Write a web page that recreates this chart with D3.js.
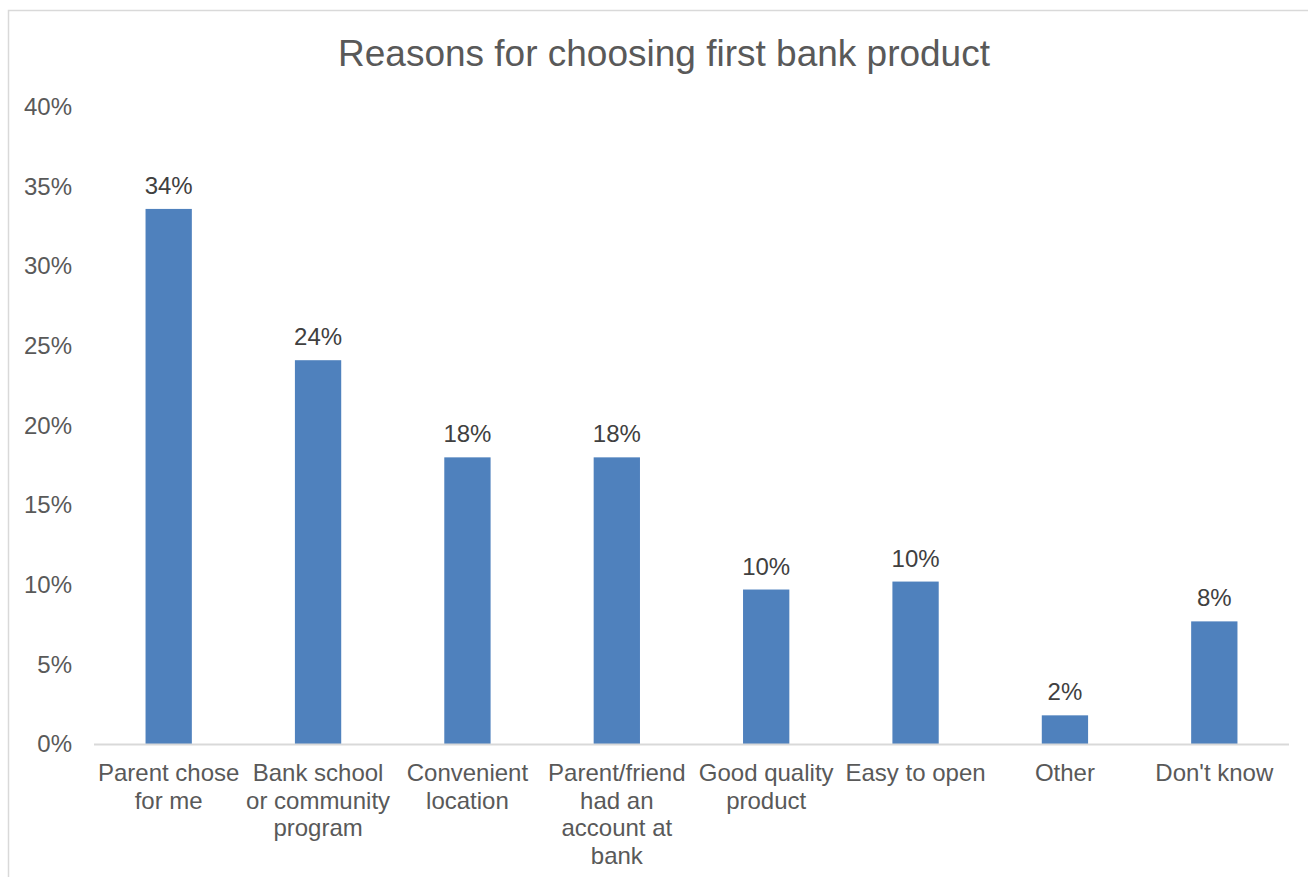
<!DOCTYPE html>
<html>
<head>
<meta charset="utf-8">
<script src="https://cdn.jsdelivr.net/npm/d3@7"></script>
<style>
  body { margin: 0; background: #fff; }
  text { font-family: "Liberation Sans", Arial, sans-serif; }
</style>
</head>
<body>
<div id="chart"></div>
<script>
// data
const categories = [
  "Parent chose for me",
  "Bank school or community program",
  "Convenient location",
  "Parent/friend had an account at bank",
  "Good quality product",
  "Easy to open",
  "Other",
  "Don't know"
];
// wrapped label lines, as in the original
const labelLines = [
  ["Parent chose", "for me"],
  ["Bank school", "or community", "program"],
  ["Convenient", "location"],
  ["Parent/friend", "had an", "account at", "bank"],
  ["Good quality", "product"],
  ["Easy to open"],
  ["Other"],
  ["Don't know"]
];
const values = [0.336, 0.241, 0.180, 0.180, 0.097, 0.102, 0.018, 0.077];
const yTicks = [0, 0.05, 0.10, 0.15, 0.20, 0.25, 0.30, 0.35, 0.40];

const W = 1308, H = 877;
const margin = { top: 107, right: 19, bottom: 133, left: 94 };
const width = W - margin.left - margin.right;
const height = H - margin.top - margin.bottom;

const svg = d3.select('#chart')
  .append('svg')
  .attr('width', W)
  .attr('height', H);

// chart frame (runs off the right and bottom of the image)
svg.append('rect')
  .attr('x', 8.5)
  .attr('y', 10.5)
  .attr('width', 1320)
  .attr('height', 900)
  .attr('fill', '#fff')
  .attr('stroke', '#d9d9d9')
  .attr('stroke-width', 1.5);

// title
svg.append('text')
  .attr('x', 664)
  .attr('y', 66)
  .attr('text-anchor', 'middle')
  .attr('fill', '#595959')
  .style('font-size', '37px')
  .text('Reasons for choosing first bank product');

const g = svg.append('g')
  .attr('transform', `translate(${margin.left},${margin.top})`);

const x = d3.scaleBand()
  .domain(categories)
  .range([0, width])
  .paddingInner(0.69)
  .paddingOuter(0.345);

const y = d3.scaleLinear()
  .domain([0, 0.40])
  .range([height, 0]);

// y axis labels only, no line
const yAxis = g.append('g')
  .call(d3.axisLeft(y).tickValues(yTicks).tickFormat(d3.format('.0%')).tickSize(0).tickPadding(22));
yAxis.select('.domain').remove();
yAxis.selectAll('text')
  .attr('fill', '#595959')
  .style('font-size', '24px');

// bars
g.selectAll('rect.bar')
  .data(values)
  .join('rect')
  .attr('class', 'bar')
  .attr('x', (d, i) => x(categories[i]))
  .attr('y', d => y(d))
  .attr('width', x.bandwidth())
  .attr('height', d => height - y(d))
  .attr('fill', '#4f81bd');

// data labels
g.selectAll('text.val')
  .data(values)
  .join('text')
  .attr('class', 'val')
  .attr('x', (d, i) => x(categories[i]) + x.bandwidth() / 2)
  .attr('y', d => y(d) - 15)
  .attr('text-anchor', 'middle')
  .attr('fill', '#404040')
  .style('font-size', '24px')
  .text(d => d3.format('.0%')(d));

// x axis line
g.append('line')
  .attr('x1', 0)
  .attr('x2', width)
  .attr('y1', height + 0.5)
  .attr('y2', height + 0.5)
  .attr('stroke', '#d9d9d9')
  .attr('stroke-width', 2);

// category labels
const cat = g.selectAll('text.cat')
  .data(categories)
  .join('text')
  .attr('class', 'cat')
  .attr('x', d => x(d) + x.bandwidth() / 2)
  .attr('y', height + 37)
  .attr('text-anchor', 'middle')
  .attr('fill', '#595959')
  .style('font-size', '24px');

cat.selectAll('tspan')
  .data((d, i) => labelLines[i])
  .join('tspan')
  .attr('x', function () { return d3.select(this.parentNode).attr('x'); })
  .attr('dy', (d, i) => i === 0 ? 0 : 27.5)
  .text(d => d);
</script>
</body>
</html>
